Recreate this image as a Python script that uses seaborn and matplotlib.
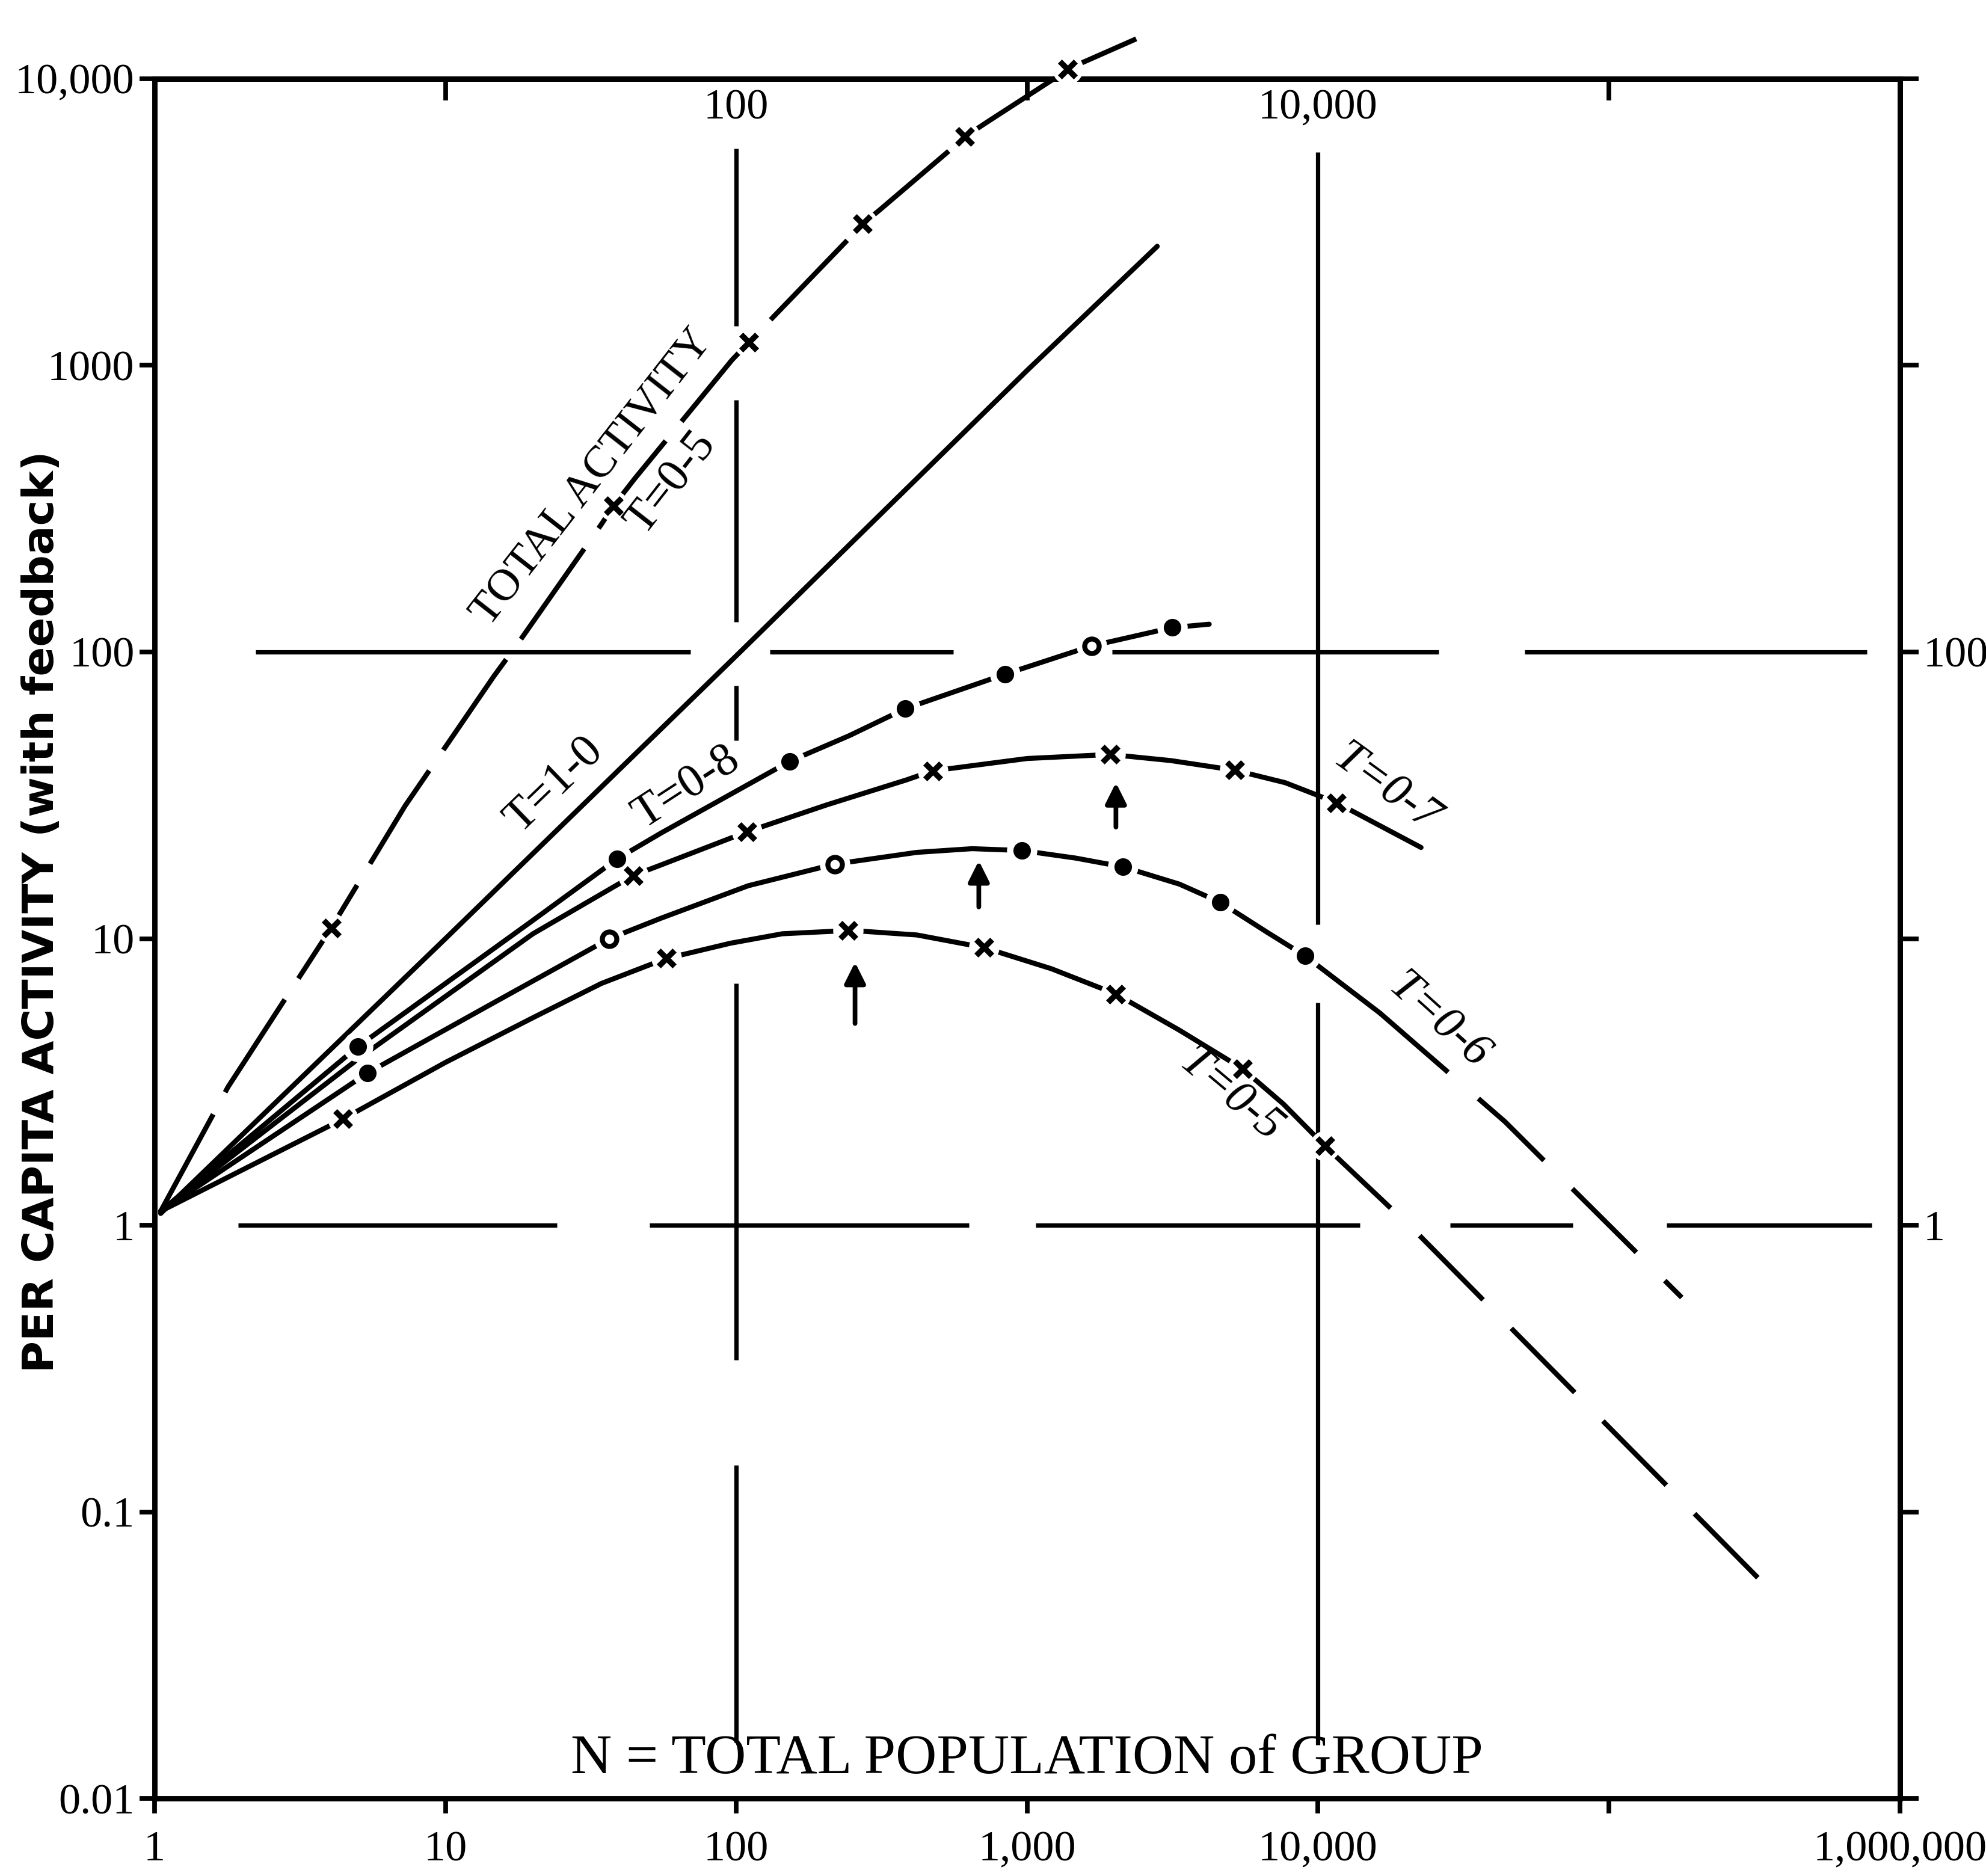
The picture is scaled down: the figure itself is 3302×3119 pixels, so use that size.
import matplotlib
matplotlib.use("Agg")
import matplotlib.pyplot as plt
import matplotlib.transforms as mtransforms
import seaborn as sns

# ---- values: N = group size, per-capita activity ----
t10_n = [1.05, 10, 100, 1000, 2800]
t10_y = [1.1, 10, 97, 960, 2600]

t08_n = [1.05, 5.0, 19.8, 39, 55.3, 153, 245, 381, 841, 1667, 3146, 4225]
t08_y = [1.12, 4.2, 11.5, 19, 23.4, 41.6, 51.1, 63.4, 83.7, 105, 121.6, 125]

t07_n = [1.05, 5, 20, 44.2, 55.3, 109, 205, 385, 473, 1000, 1927, 3118, 5165, 7710, 11580, 22600]
t07_y = [1.12, 3.8, 10.4, 16.6, 18.1, 23.6, 29.3, 35.8, 38.5, 42.5, 43.9, 41.8, 38.7, 35.0, 29.8, 20.8]

t06_n = [1.05, 5.4, 13.9, 36.6, 55.3, 110, 218, 418, 647, 959, 1468, 2137, 3334, 4605, 6710, 9020, 16330]
t06_y = [1.12, 3.4, 5.8, 10, 11.8, 15.3, 18.2, 20.0, 20.6, 20.3, 19.1, 17.8, 15.5, 13.4, 10.5, 8.71, 5.5]
t06_ext_n = [16330, 43900, 178000]
t06_ext_y = [5.5, 2.3, 0.56]

t05_n = [1.05, 4.45, 10, 20, 34.4, 57.6, 65.2, 95.5, 144, 211, 242, 418, 710, 1213, 2019,
         3330, 5495, 7600, 10570]
t05_y = [1.12, 2.35, 3.7, 5.3, 6.98, 8.54, 8.79, 9.64, 10.4, 10.6, 10.7, 10.3, 9.31, 7.85, 6.41,
         4.8, 3.52, 2.65, 1.89]
t05_ext_n = [10570, 21900, 325000]
t05_ext_y = [1.89, 0.94, 0.059]

# total activity for T = 0.5
tot_n = [1.05, 1.79, 4.05, 7.26, 14.6, 18.2, 34.3, 37.9, 44.9, 96.7, 110.6, 246, 272,
         311, 549, 611, 717, 1265, 1375, 1625, 2371]
tot_y = [1.12, 3.04, 10.9, 29, 81.7, 111, 278, 324, 404, 1044, 1204, 2792, 3113,
         3480, 5690, 6269, 6980, 10140, 10790, 11620, 13760]

# plotted points (markers)
tot_mk_n = [4.05, 37.9, 110.6, 272, 611, 1375]
tot_mk_y = [10.9, 324, 1204, 3113, 6269, 10790]
t08_dot_n = [5.0, 39, 153, 381, 841, 3146]
t08_dot_y = [4.2, 19, 41.6, 63.4, 83.7, 121.6]
t08_open_n = [1667]
t08_open_y = [105]
t07_mk_n = [44.2, 109, 473, 1927, 5165, 11580]
t07_mk_y = [16.6, 23.6, 38.5, 43.9, 38.7, 29.8]
t06_dot_n = [5.4, 959, 2137, 4605, 9020]
t06_dot_y = [3.4, 20.3, 17.8, 13.4, 8.71]
t06_open_n = [36.6, 218]
t06_open_y = [10, 18.2]
t05_mk_n = [4.45, 57.6, 242, 710, 2019, 5495, 10570]
t05_mk_y = [2.35, 8.54, 10.7, 9.31, 6.41, 3.52, 1.89]

# peak arrows: N, tail, head
arrow_n = [256, 682, 2019]
arrow_lo = [5.06, 12.9, 24.5]
arrow_hi = [8.27, 18.7, 35]

# broken reference lines (data extents)
grid_y100 = [(2.23, 69.5), (130.6, 558), (1955, 25960), (51340, 769000)]
grid_y1 = [(1.94, 24.2), (50.4, 630), (1072, 13960), (28430, 75150), (157700, 800000)]
grid_x100 = [(1368, 5690), (127.4, 755), (49.2, 76.4), (0.34, 6.98), (0.0157, 0.146)]
grid_x1e4 = [(11.2, 5540), (0.0154, 5.99)]

x_ticks = [1, 10, 100, 1e3, 1e4, 1e5, 1e6]
x_labels = ['1', '10', '100', '1,000', '10,000', '', '1,000,000']
y_ticks = [0.01, 0.1, 1, 10, 100, 1000, 1e4]
y_labels = ['0.01', '0.1', '1', '10', '100', '1000', '10,000']
right_labels = ['', '', '1', '', '100', '', '']

sns.set_theme(style="white")
plt.rcParams['font.family'] = ['Liberation Serif', 'DejaVu Serif']
plt.rcParams['text.color'] = 'black'
plt.rcParams['axes.labelcolor'] = 'black'
plt.rcParams['xtick.color'] = 'black'
plt.rcParams['ytick.color'] = 'black'

fig = plt.figure(figsize=(16.51, 15.595), dpi=200)
ax = fig.add_axes([0.0778, 0.0412, 0.8788, 0.9169])
ax.set_xscale('log')
ax.set_yscale('log')
ax.set_xlim(1, 1e6)
ax.set_ylim(0.01, 1e4)

LW = 3.0
for y, spans in [(100, grid_y100), (1, grid_y1)]:
    for a, b in spans:
        ax.hlines(y, a, b, color='black', lw=2.6, zorder=1)
for x, spans in [(100, grid_x100), (1e4, grid_x1e4)]:
    for a, b in spans:
        ax.vlines(x, a, b, color='black', lw=2.6, zorder=1)


def curve(n, v, ls='-', clip=True):
    sns.lineplot(x=n, y=v, ax=ax, color='black', linewidth=LW, estimator=None,
                 sort=False, linestyle=ls, zorder=2, clip_on=clip)


def marks(n, v, kind, clip=True):
    # white halo leaves the small gap in the line around each point
    sns.scatterplot(x=n, y=v, ax=ax, marker='o', s=330, color='white',
                    linewidth=0, zorder=3, clip_on=clip)
    if kind == 'x':
        sns.scatterplot(x=n, y=v, ax=ax, marker='x', s=90, color='black',
                        linewidth=3.4, zorder=4, clip_on=clip)
    elif kind == 'dot':
        sns.scatterplot(x=n, y=v, ax=ax, marker='o', s=110, color='black',
                        linewidth=0, zorder=4, clip_on=clip)
    else:
        sns.scatterplot(x=n, y=v, ax=ax, marker='o', s=75, color='white',
                        edgecolor='black', linewidth=3.0, zorder=4, clip_on=clip)


dash_long = (0, (22, 5))
dash_ext = (0, (18, 8))

curve(tot_n, tot_y, dash_long, clip=False)
curve(t10_n, t10_y)
curve(t08_n, t08_y)
curve(t07_n, t07_y)
curve(t06_n, t06_y)
curve(t06_ext_n, t06_ext_y, dash_ext)
curve(t05_n, t05_y)
curve(t05_ext_n, t05_ext_y, dash_ext)

marks(tot_mk_n, tot_mk_y, 'x', clip=False)
marks(t08_dot_n, t08_dot_y, 'dot')
marks(t08_open_n, t08_open_y, 'open')
marks(t07_mk_n, t07_mk_y, 'x')
marks(t06_dot_n, t06_dot_y, 'dot')
marks(t06_open_n, t06_open_y, 'open')
marks(t05_mk_n, t05_mk_y, 'x')

for n, lo, hi in zip(arrow_n, arrow_lo, arrow_hi):
    ax.annotate('', xy=(n, hi), xytext=(n, lo),
                arrowprops=dict(arrowstyle='-|>', color='black', lw=2.8,
                                mutation_scale=26, shrinkA=0, shrinkB=0),
                zorder=4)

# curve labels
ax.text(32.1, 404, 'TOTAL ACTIVITY', rotation=52, rotation_mode='anchor',
        ha='center', va='center', fontsize=27, zorder=5)
ax.text(59.7, 388, 'T=0-5', rotation=52, rotation_mode='anchor',
        ha='center', va='center', fontsize=28, zorder=5)
ax.text(23.7, 34.3, 'T=1-0', rotation=44, rotation_mode='anchor',
        ha='center', va='center', fontsize=28, zorder=5)
ax.text(67.4, 33.6, 'T=0-8', rotation=33, rotation_mode='anchor',
        ha='center', va='center', fontsize=28, zorder=5)
ax.text(17200, 33.3, 'T=0-7', rotation=-36, rotation_mode='anchor',
        ha='center', va='center', fontsize=28, style='italic', zorder=5)
ax.text(25960, 5.16, 'T=0-6', rotation=-42, rotation_mode='anchor',
        ha='center', va='center', fontsize=28, style='italic', zorder=5)
ax.text(5010, 2.83, 'T=0-5', rotation=-40, rotation_mode='anchor',
        ha='center', va='center', fontsize=28, style='italic', zorder=5)

# axes, ticks
ax.set_xlabel('')
ax.set_ylabel('')
ax.set_xticks(x_ticks, x_labels)
ax.set_yticks(y_ticks, y_labels)
ax.minorticks_off()
ax.tick_params(axis='both', which='major', direction='out', length=9, width=2.8,
               labelsize=26, color='black', labelcolor='black')
ax.tick_params(axis='x', pad=10, bottom=True, top=False)
ax.tick_params(axis='y', pad=3, left=True, right=False)
for s in ax.spines.values():
    s.set_linewidth(3.2)
    s.set_color('black')

top = ax.secondary_xaxis('top')
top.set_xticks([10, 1000, 1e5], ['', '', ''])
top.minorticks_off()
top.tick_params(direction='in', length=13, width=2.8, color='black')
top.spines['top'].set_linewidth(3.2)

right = ax.secondary_yaxis('right')
right.set_yticks(y_ticks, right_labels)
right.minorticks_off()
right.tick_params(direction='out', length=11, width=2.8, labelsize=26, pad=3,
                  color='black', labelcolor='black')
right.spines['right'].set_linewidth(3.2)

blend = mtransforms.blended_transform_factory(ax.transData, ax.transAxes)
for x, lab in [(100, '100'), (1e4, '10,000')]:
    ax.text(x, 0.994, lab, transform=blend, ha='center', va='top', fontsize=26,
            zorder=5)
ax.text(1000, 0.015, 'N = TOTAL POPULATION of GROUP', transform=blend,
        ha='center', va='baseline', fontsize=34, zorder=5)

fig.text(0.021, 0.514, 'PER CAPITA ACTIVITY (with feedback)', rotation=90,
         ha='center', va='center', fontsize=26, fontweight='bold',
         family='DejaVu Sans')

fig.savefig('out.png', dpi=200, facecolor='white')
